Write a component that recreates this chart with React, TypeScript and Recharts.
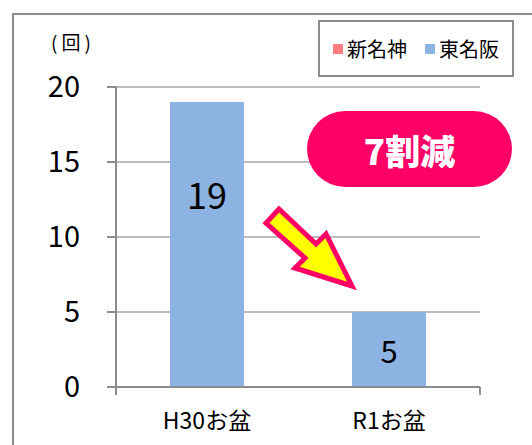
import { BarChart, Bar, XAxis, YAxis, CartesianGrid, LabelList, Legend } from 'recharts';

const categories = ['H30お盆', 'R1お盆'];
const tomeihanValues = [19, 5];
const yTicks = [0, 5, 10, 15, 20];
const edgeTicks = [0, 1, 2];
const legendNames = ['新名神', '東名阪'];
const legendColors = ['#ff7c80', '#8db3e2'];
const unitLabel = '(回)';
const badgeText = '7割減';

const data = categories.map((name, i) => ({ name, value: tomeihanValues[i] }));

const FONT = '"Noto Sans CJK JP", "Noto Sans", sans-serif';
const AXIS = '#8c8c8c';

function ValueLabel(props: any) {
  const { x, y, width, height, value, index } = props;
  // first label sits higher in the bar, the small one is centred
  const cy = index === 0 ? y + height * 0.32 : y + height / 2;
  return (
    <text
      x={x + width / 2}
      y={cy}
      textAnchor="middle"
      dominantBaseline="central"
      fontSize={index === 0 ? 36 : 31}
      fill="#000"
    >
      {value}
    </text>
  );
}

function LegendBox() {
  return (
    <div
      style={{
        boxSizing: 'border-box',
        width: 196,
        height: 57,
        border: `2px solid ${AXIS}`,
        background: '#fff',
        display: 'flex',
        alignItems: 'center',
        justifyContent: 'center',
        gap: 18,
        fontSize: 20,
        color: '#000',
      }}
    >
      {legendNames.map((name, i) => (
        <div key={name} style={{ display: 'flex', alignItems: 'center', gap: 4 }}>
          <span style={{ width: 10, height: 10, background: legendColors[i], display: 'inline-block' }} />
          <span>{name}</span>
        </div>
      ))}
    </div>
  );
}

export default function App() {
  return (
    <div
      style={{
        position: 'absolute',
        left: 0,
        top: 0,
        width: 532,
        height: 445,
        overflow: 'hidden',
        background: '#fff',
        fontFamily: FONT,
      }}
    >
      <div
        style={{
          position: 'absolute',
          left: 12,
          top: 13,
          width: 600,
          height: 500,
          borderLeft: `2px solid ${AXIS}`,
          borderTop: `2px solid ${AXIS}`,
        }}
      />
      <div
        style={{
          position: 'absolute',
          left: 51,
          top: 27,
          fontSize: 19,
          letterSpacing: 4,
          lineHeight: '29px',
          color: '#000',
        }}
      >
        {unitLabel}
      </div>
      <div style={{ position: 'absolute', left: 0, top: 0 }}>
        <BarChart width={532} height={445} data={data} margin={{ top: 87, right: 52, bottom: 18, left: 0 }}>
          <CartesianGrid vertical={false} stroke="#a6a6a6" strokeWidth={1.5} xAxisId="b" />
          <XAxis
            xAxisId="a"
            type="number"
            domain={[0, 2]}
            allowDataOverflow
            ticks={edgeTicks}
            tick={() => <g />}
            tickSize={8}
            height={1}
            axisLine={{ stroke: AXIS, strokeWidth: 2 }}
            tickLine={{ stroke: AXIS, strokeWidth: 2 }}
          />
          <XAxis
            xAxisId="b"
            dataKey="name"
            axisLine={false}
            tickLine={false}
            tickSize={0}
            tickMargin={25}
            height={39}
            interval={0}
            tick={{ fontSize: 23, fill: '#000' }}
          />
          <YAxis
            domain={[0, 20]}
            ticks={yTicks}
            width={116}
            tickSize={9}
            tickMargin={27}
            axisLine={{ stroke: AXIS, strokeWidth: 2 }}
            tickLine={{ stroke: AXIS, strokeWidth: 2 }}
            tick={{ fontSize: 29, fill: '#000' }}
          />
          <Bar xAxisId="b" dataKey="value" fill="#8db3e2" barSize={74} isAnimationActive={false}>
            <LabelList dataKey="value" content={ValueLabel} />
          </Bar>
          <Legend
            layout="vertical"
            align="center"
            verticalAlign="middle"
            wrapperStyle={{ position: 'absolute', left: 318, top: 20, width: 196, height: 57 }}
            content={() => <LegendBox />}
          />
        </BarChart>
      </div>
      <div
        style={{
          position: 'absolute',
          left: 307,
          top: 111,
          width: 205,
          height: 76,
          borderRadius: 38,
          background: '#ff0066',
          color: '#fff',
          fontWeight: 900,
          fontSize: 35,
          display: 'flex',
          alignItems: 'center',
          justifyContent: 'center',
        }}
      >
        {badgeText}
      </div>
      <svg width={532} height={445} style={{ position: 'absolute', left: 0, top: 0, pointerEvents: 'none' }}>
        <polygon
          points="279,209 316,244 326,234 352,286 295,268 305,258 266,223"
          fill="#ffff00"
          stroke="#ff0066"
          strokeWidth={5}
          strokeLinejoin="miter"
        />
      </svg>
    </div>
  );
}
